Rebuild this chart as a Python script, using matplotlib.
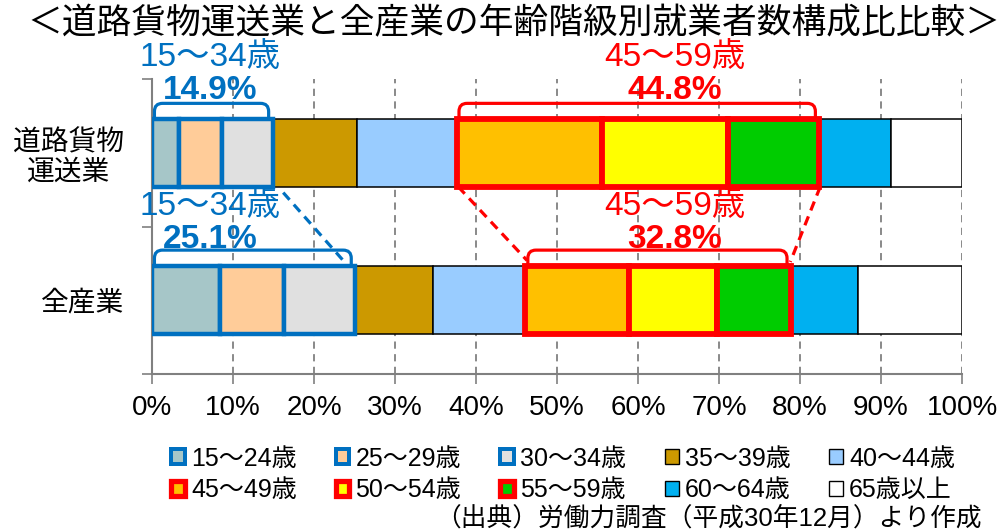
import matplotlib
matplotlib.use('Agg')
import matplotlib.pyplot as plt
from matplotlib.patches import Patch, PathPatch
from matplotlib.path import Path
import numpy as np

plt.rcParams['font.family'] = ['Liberation Sans', 'Noto Sans CJK JP']

# データ
categories = ['道路貨物\n運送業', '全産業']
age_labels = ['15～24歳', '25～29歳', '30～34歳', '35～39歳', '40～44歳',
              '45～49歳', '50～54歳', '55～59歳', '60～64歳', '65歳以上']
road_freight = [3.3, 5.4, 6.2, 10.4, 12.3, 17.9, 15.6, 11.3, 8.8, 8.8]
all_industry = [8.4, 7.9, 8.8, 9.6, 11.4, 12.8, 10.8, 9.2, 8.3, 12.8]
group_labels = ['15～34歳', '45～59歳']
blue_idx = [0, 1, 2]
red_idx = [5, 6, 7]

colors = ['#A6C6C8', '#FFCC99', '#E0E0E0', '#CC9900', '#99CCFF',
          '#FFC000', '#FFFF00', '#00CC00', '#00B0F0', '#FFFFFF']
BLUE = '#0070C0'
RED = '#FF0000'
GRAY = '#808080'


def edge_style(i):
    if i in blue_idx:
        return BLUE, 3.2, 4
    if i in red_idx:
        return RED, 4.2, 4
    return 'black', 1.1, 3


def bracket(ax, x0, x1, ytop, ybase, color, rx=1.0, ry=0.055):
    verts = [(x0, ybase), (x0, ytop - ry), (x0, ytop), (x0 + rx, ytop),
             (x1 - rx, ytop), (x1, ytop), (x1, ytop - ry), (x1, ybase)]
    codes = [Path.MOVETO, Path.LINETO, Path.CURVE3, Path.CURVE3,
             Path.LINETO, Path.CURVE3, Path.CURVE3, Path.LINETO]
    ax.add_patch(PathPatch(Path(verts, codes), fill=False, edgecolor=color,
                           lw=2.3, clip_on=False, zorder=6))


fig = plt.figure(figsize=(10, 5.3), dpi=100)
ax = fig.add_axes([0.152, 0.2943, 0.81, 0.5566])

ypos = [1, 0]
bar_h = 0.46
rows = [road_freight, all_industry]
left = np.zeros(2)
for i in range(len(age_labels)):
    vals = np.array([road_freight[i], all_industry[i]])
    ec, lw, z = edge_style(i)
    ax.barh(ypos, vals, left=left, height=bar_h, color=colors[i],
            edgecolor=ec, linewidth=lw, zorder=z)
    left += vals

ax.set_xlim(0, 100)
ax.set_ylim(-0.5, 1.5)
ax.set_xticks(range(0, 101, 10))
ax.set_xticklabels([f'{v}%' for v in range(0, 101, 10)], fontsize=20)
ax.set_yticks(ypos)
ax.set_yticklabels(categories, fontsize=20, multialignment='center')
ax.set_yticks([-0.5, 0.5, 1.5], minor=True)
ax.tick_params(axis='y', which='major', length=0, pad=20)
ax.tick_params(axis='y', which='minor', length=7, color=GRAY, width=1.2)
ax.tick_params(axis='x', length=7, color=GRAY, width=1.2, pad=8)
ax.xaxis.grid(True, linestyle=(0, (4, 3)), color=GRAY, linewidth=1.3)
ax.set_axisbelow(True)
for s in ['top', 'right']:
    ax.spines[s].set_visible(False)
for s in ['left', 'bottom']:
    ax.spines[s].set_color(GRAY)
    ax.spines[s].set_linewidth(1.5)

# グループ注記
bar_top = {1: 1 + bar_h / 2, 0: bar_h / 2}
bar_bot = {1: 1 - bar_h / 2, 0: -bar_h / 2}
text_y = {1: (1.645, 1.42, 1.335), 0: (0.635, 0.41, 0.34)}
for row, y in zip(rows, ypos):
    cum = np.concatenate([[0], np.cumsum(row)])
    for idx, color, tx, glabel in [(blue_idx, BLUE, 7.2, group_labels[0]),
                                   (red_idx, RED, 64.5, group_labels[1])]:
        x0, x1 = cum[idx[0]], cum[idx[-1] + 1]
        share = sum(row[k] for k in idx)
        ty1, ty2, btop = text_y[y]
        ax.text(tx, ty1, glabel, color=color, fontsize=24, ha='center',
                va='center', clip_on=False, zorder=7)
        ax.text(tx, ty2, f'{share:.1f}%', color=color, fontsize=24,
                fontweight='bold', ha='center', va='center', clip_on=False, zorder=5)
        bracket(ax, x0 + 0.3, x1 - 0.5, btop, bar_top[y] + 0.01, color)

# 拡大の破線
cum_top = np.concatenate([[0], np.cumsum(road_freight)])
cum_bot = np.concatenate([[0], np.cumsum(all_industry)])
dash = (0, (3, 2))
ax.plot([cum_top[3] + 1.3, cum_bot[3] - 1.5], [bar_bot[1] - 0.04, 0.27],
        color=BLUE, lw=2.3, linestyle=dash, zorder=6, clip_on=False)
ax.plot([cum_top[5] + 0.2, cum_bot[5] + 0.2], [bar_bot[1], 0.27],
        color=RED, lw=2.3, linestyle=dash, zorder=6)
ax.plot([cum_top[8] + 0.1, cum_bot[8] - 0.1], [bar_bot[1], 0.26],
        color=RED, lw=2.3, linestyle=dash, zorder=6)

# 凡例
handles = []
for i in range(len(age_labels)):
    ec, lw, _ = edge_style(i)
    handles.append(Patch(facecolor=colors[i], edgecolor=ec, linewidth=lw * 0.9,
                         label=age_labels[i]))
order = [0, 5, 1, 6, 2, 7, 3, 8, 4, 9]
fig.legend([handles[k] for k in order], [age_labels[k] for k in order],
           ncol=5, loc='upper left', bbox_to_anchor=(0.171, 0.157),
           frameon=False, fontsize=18, handlelength=0.55, handleheight=0.55,
           handletextpad=0.25, columnspacing=1.55, labelspacing=0.3,
           borderaxespad=0, borderpad=0)

fig.text(0.514, 0.955, '＜道路貨物運送業と全産業の年齢階級別就業者数構成比比較＞',
         ha='center', va='center', fontsize=25)
fig.text(0.982, 0.022, '（出典）労働力調査（平成30年12月）より作成',
         ha='right', va='center', fontsize=18.5)

fig.savefig('out.png', dpi=100)
